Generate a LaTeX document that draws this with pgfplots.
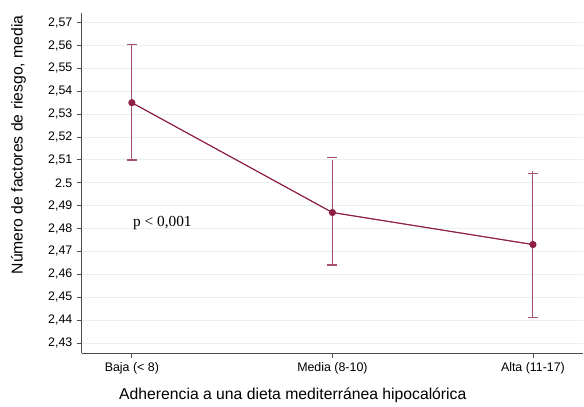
\documentclass[border=0pt]{standalone}
\usepackage{fontspec}
\setmainfont{Liberation Sans}
\newfontfamily\seriffont{Liberation Serif}
\usepackage{pgfplots}
\pgfplotsset{compat=1.18}
\definecolor{maroon}{HTML}{8E1F47}
\definecolor{errc}{HTML}{A8506F}
\definecolor{gridc}{HTML}{E8F1F2}
\begin{document}
\begin{tikzpicture}
\useasboundingbox (-61.3pt,-39.75pt) rectangle (376.7pt,264.75pt);
\begin{axis}[
  at={(0,0)}, anchor=south west,
  scale only axis, width=376pt, height=255pt,
  xmin=-0.25, xmax=2.25,
  ymin=2.4256, ymax=2.5742,
  axis x line*=bottom, axis y line*=left,
  axis line style={draw=black!70, line width=0.6pt},
  tick align=outside,
  major tick length=3.5pt,
  tick style={black!70, line width=0.6pt},
  xtick={0,1,2},
  xticklabels={Baja (< 8),Media (8-10),Alta (11-17)},
  ytick={2.43,2.44,2.45,2.46,2.47,2.48,2.49,2.50,2.51,2.52,2.53,2.54,2.55,2.56,2.57},
  yticklabels={2{,}43,2{,}44,2{,}45,2{,}46,2{,}47,2{,}48,2{,}49,2.5,2{,}51,2{,}52,2{,}53,2{,}54,2{,}55,2{,}56,2{,}57},
  ticklabel style={font=\fontsize{9.3}{11}\selectfont},
  ymajorgrids=true,
  grid style={gridc, line width=0.6pt},
  xlabel={Adherencia a una dieta mediterránea hipocalórica},
  ylabel={Número de factores de riesgo, media},
  label style={font=\fontsize{11.8}{13}\selectfont},
  xlabel style={at={(axis description cs:0.421,-0.1235)}, anchor=center},
  ylabel style={at={(axis description cs:-0.126,0.612)}, anchor=center},
  clip=false,
]
\addplot[errc, line width=0.75pt, mark=none, forget plot,
  error bars/.cd, y dir=both, y explicit, error mark=none,
  error bar style={errc, line width=0.75pt}]
  coordinates {
  (0,2.535) +- (0.0255,0.025)
  (1,2.487) +- (0.024,0.023)
  (2,2.473) +- (0.031,0.032)
  };
% caps drawn as horizontal dash marks at the interval ends
\addplot[errc, only marks, mark=-, mark size=3.75pt, mark options={solid, errc, line width=1pt}, forget plot]
  coordinates {(0,2.5605) (0,2.510) (1,2.511) (1,2.464) (2,2.504) (2,2.441)};
\addplot[maroon, line width=0.75pt, mark=*, mark size=2.3pt]
  coordinates {(0,2.535) (1,2.487) (2,2.473)};
\node[anchor=west, font=\seriffont\fontsize{11.5}{13}\selectfont, inner sep=0pt] at (axis cs:0.005,2.4822) {p < 0,001};
\end{axis}
\end{tikzpicture}
\end{document}
